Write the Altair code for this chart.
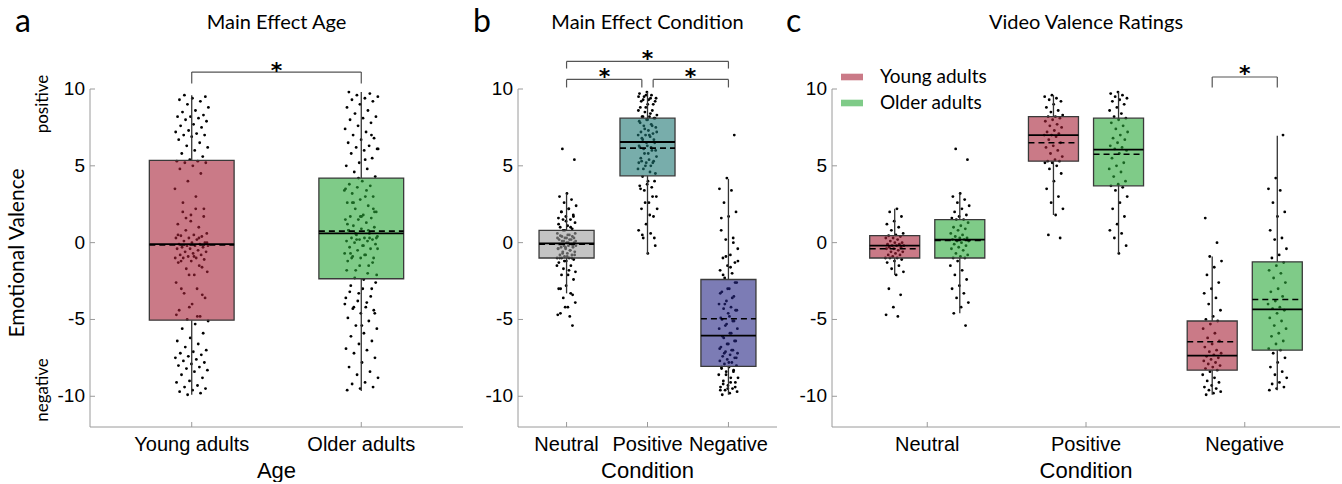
import altair as alt
import pandas as pd

# ---------------- data ----------------
AGE_GROUPS = ["Young adults", "Older adults"]
CONDITIONS = ["Neutral", "Positive", "Negative"]
Y_TICKS = [-10, -5, 0, 5, 10]
Y_TICK_LABELS = ["-10", "-5", "0", "5", "10"]

# individual ratings per age group x condition (panel c); panels a and b pool them
YOUNG_NEUTRAL = [2.2, 2.0, 1.7, 1.4, 1.2, 1.0, 0.8, 0.6, 0.5, 0.45, 0.4, 0.3, 0.3, 0.2, 0.1, 0.0,
                 0.0, -0.1, -0.1, -0.2, -0.2, -0.2, -0.3, -0.3, -0.4, -0.4, -0.5, -0.6, -0.6, -0.7,
                 -0.8, -0.8, -0.9, -1.0, -1.0, -1.0, -1.1, -1.2, -1.3, -1.5, -1.7, -1.9, -2.1, -3.0,
                 -3.4, -4.2, -4.7, -4.8]
OLDER_NEUTRAL = [6.1, 5.4, 3.2, 3.0, 2.8, 2.6, 2.4, 2.2, 2.0, 1.8, 1.7, 1.6, 1.5, 1.5, 1.3, 1.1,
                 1.0, 0.9, 0.8, 0.6, 0.5, 0.4, 0.3, 0.3, 0.2, 0.2, 0.1, 0.1, 0.0, -0.1, -0.2, -0.3,
                 -0.4, -0.5, -0.7, -0.8, -0.9, -1.0, -1.0, -1.2, -1.5, -1.8, -2.1, -2.4, -2.8, -3.0,
                 -3.3, -3.6, -3.9, -4.2, -4.6, -5.4]
YOUNG_POSITIVE = [9.6, 9.5, 9.4, 9.3, 9.2, 9.0, 8.8, 8.6, 8.5, 8.3, 8.2, 8.2, 8.1, 8.0, 7.9, 7.7,
                  7.6, 7.5, 7.3, 7.2, 7.1, 7.0, 7.0, 6.9, 6.7, 6.5, 6.3, 6.2, 6.0, 5.8, 5.6, 5.4,
                  5.3, 5.3, 5.2, 5.2, 5.0, 4.8, 4.5, 4.0, 3.5, 3.0, 2.6, 2.2, 1.8, 0.5, 0.3]
OLDER_POSITIVE = [9.8, 9.7, 9.6, 9.5, 9.4, 9.3, 9.2, 9.0, 8.8, 8.6, 8.4, 8.2, 8.1, 8.0, 7.8, 7.6,
                  7.4, 7.2, 7.0, 6.8, 6.7, 6.5, 6.3, 6.2, 6.1, 6.0, 5.8, 5.5, 5.2, 5.0, 4.8, 4.6,
                  4.3, 4.0, 3.8, 3.7, 3.6, 3.4, 3.0, 2.6, 2.2, 1.7, 1.2, 0.8, 0.6, 0.3, -0.2, -0.7]
YOUNG_NEGATIVE = [1.6, 0.0, -0.9, -1.2, -1.6, -2.1, -2.6, -3.0, -3.3, -3.6, -4.0, -4.4, -4.8, -5.0,
                  -5.1, -5.3, -5.6, -5.9, -6.2, -6.4, -6.6, -6.8, -7.0, -7.1, -7.2, -7.3, -7.4,
                  -7.5, -7.6, -7.7, -7.8, -7.9, -8.0, -8.1, -8.2, -8.3, -8.4, -8.6, -8.8, -9.0,
                  -9.1, -9.3, -9.4, -9.5, -9.6, -9.7, -9.8, -9.9]
OLDER_NEGATIVE = [7.0, 4.2, 3.5, 3.4, 2.6, 2.0, 1.7, 0.8, 0.3, 0.2, -0.4, -0.8, -1.0, -1.3, -1.5,
                  -1.8, -2.0, -2.3, -2.6, -3.0, -3.2, -3.5, -3.8, -4.0, -4.2, -4.3, -4.4, -4.6,
                  -4.9, -5.1, -5.4, -5.6, -5.9, -6.1, -6.4, -6.6, -6.9, -7.0, -7.2, -7.5, -7.8,
                  -8.1, -8.4, -8.6, -8.8, -9.1, -9.2, -9.4, -9.5, -9.6]

# box statistics
A_Q1 = [-5.05, -2.35]
A_MED = [-0.1, 0.6]
A_Q3 = [5.35, 4.2]
A_LO = [-9.9, -9.65]
A_HI = [9.6, 9.8]
A_MEAN = [-0.15, 0.75]

B_Q1 = [-1.0, 4.35, -8.05]
B_MED = [-0.05, 6.55, -6.05]
B_Q3 = [0.8, 8.1, -2.4]
B_LO = [-3.3, -0.75, -9.9]
B_HI = [3.2, 9.8, 4.15]
B_MEAN = [-0.1, 6.15, -4.95]

C_YOUNG_Q1 = [-1.0, 5.3, -8.3]
C_YOUNG_MED = [-0.2, 7.0, -7.35]
C_YOUNG_Q3 = [0.45, 8.2, -5.1]
C_YOUNG_LO = [-2.1, 1.8, -9.9]
C_YOUNG_HI = [2.2, 9.6, -0.9]
C_YOUNG_MEAN = [-0.4, 6.5, -6.45]

C_OLDER_Q1 = [-1.0, 3.7, -7.0]
C_OLDER_MED = [0.2, 6.05, -4.35]
C_OLDER_Q3 = [1.5, 8.1, -1.25]
C_OLDER_LO = [-4.6, -0.7, -9.6]
C_OLDER_HI = [3.2, 9.8, 6.95]
C_OLDER_MEAN = [0.15, 5.75, -3.7]

# significance brackets: (left, right, top, bottom of the drop)
A_BRACKETS = [(1.0, 2.0, 11.1, 10.35)]
A_STARS = [(1.5, 11.45)]
B_BRACKETS = [(1.0, 1.93, 10.62, 10.1), (2.07, 3.0, 10.62, 10.1), (1.0, 3.0, 11.8, 11.33)]
B_STARS = [(1.47, 11.1), (2.53, 11.1), (2.0, 12.25)]
C_BRACKETS = [(2.795, 3.205, 10.78, 10.1)]
C_STARS = [(3.0, 11.27)]

# ---------------- styling ----------------
AGE_COLORS = ["#A72137", "#2AA839"]
COND_COLORS = ["#9D9D9D", "#1E7673", "#252584"]
BOX_ALPHA = 0.6
SANS = "Liberation Sans"
LATO = "Lato"
PLOT_H = 338
Y_DOMAIN = [-12, 10]
AXIS_GRAY = "#9a9a9a"


def pts_frame(lists, positions):
    rows = []
    for vals, p in zip(lists, positions):
        for v in vals:
            rows.append({"pos": p, "v": v})
    return pd.DataFrame(rows)


def box_frame(pos, q1, med, q3, lo, hi, mean, fill, group):
    return pd.DataFrame({"pos": pos, "q1": q1, "med": med, "q3": q3, "lo": lo,
                         "hi": hi, "mean": mean, "fill": fill, "group": group})


def bracket_frame(brackets):
    rows = []
    for x1, x2, top, drop in brackets:
        rows.append({"x": x1, "x2": x1, "y": drop, "y2": top})
        rows.append({"x": x1, "x2": x2, "y": top, "y2": top})
        rows.append({"x": x2, "x2": x2, "y": top, "y2": drop})
    return pd.DataFrame(rows)


def label(text, x, y, size, font=LATO, angle=0, align="center", baseline="middle"):
    return alt.Chart().mark_text(text=text, font=font, fontSize=size, angle=angle, align=align,
                                 baseline=baseline, color="black").encode(
        x=alt.value(x), y=alt.value(y))


def panel(pts, box, width, xdom, box_w, jit, tick_pos, tick_names, xtitle,
          brackets, stars, letter, title, letter_dx, legend=False, ytitle=False):
    xs = alt.Scale(domain=xdom, nice=False, zero=False)
    ys = alt.Scale(domain=Y_DOMAIN, nice=False, zero=False)

    points = alt.Chart(pts).transform_window(idx="row_number()").transform_calculate(
        xj=f"datum.pos + ((datum.idx * 0.6180339887) % 1 - 0.5) * {2 * jit}"
    ).mark_circle(size=8, color="black", opacity=1).encode(
        x=alt.X("xj:Q", scale=xs, axis=None),
        y=alt.Y("v:Q", scale=ys, axis=None),
    )

    base = alt.Chart(box).transform_calculate(
        x1=f"datum.pos - {box_w / 2}", x2=f"datum.pos + {box_w / 2}")
    whisk_lo = base.mark_rule(color="#333", strokeWidth=1.3).encode(
        x=alt.X("pos:Q", scale=xs, axis=None), y=alt.Y("lo:Q", scale=ys, axis=None), y2="q1:Q")
    whisk_hi = base.mark_rule(color="#333", strokeWidth=1.3).encode(
        x=alt.X("pos:Q", scale=xs, axis=None), y=alt.Y("q3:Q", scale=ys, axis=None), y2="hi:Q")
    if legend:
        color = alt.Color("group:N", scale=alt.Scale(domain=AGE_GROUPS, range=AGE_COLORS),
                          legend=alt.Legend(title=None, orient="none", legendX=9, legendY=-23,
                                            symbolType="M-1,-0.3H1V0.3H-1Z", symbolSize=484,
                                            symbolOpacity=BOX_ALPHA, symbolStrokeWidth=0,
                                            labelFont=LATO, labelFontSize=19, labelColor="black",
                                            labelOffset=17, rowPadding=5, padding=0))
    else:
        color = alt.Color("fill:N", scale=None)
    rect = base.mark_rect(fillOpacity=BOX_ALPHA, stroke="#3a3a3a", strokeWidth=1.3).encode(
        x=alt.X("x1:Q", scale=xs, axis=None), x2="x2:Q",
        y=alt.Y("q1:Q", scale=ys, axis=None), y2="q3:Q", color=color)
    med = base.mark_rule(color="black", strokeWidth=1.8).encode(
        x=alt.X("x1:Q", scale=xs, axis=None), x2="x2:Q", y=alt.Y("med:Q", scale=ys, axis=None))
    mean = base.mark_rule(color="black", strokeWidth=1.6, strokeDash=[6, 4]).encode(
        x=alt.X("x1:Q", scale=xs, axis=None), x2="x2:Q", y=alt.Y("mean:Q", scale=ys, axis=None))

    br = alt.Chart(bracket_frame(brackets)).mark_rule(color="#555", strokeWidth=1.2).encode(
        x=alt.X("x:Q", scale=xs, axis=None), x2="x2:Q",
        y=alt.Y("y:Q", scale=ys, axis=None), y2="y2:Q")
    st = alt.Chart(pd.DataFrame(stars, columns=["x", "y"])).mark_text(
        text="*", fontSize=22, font="DejaVu Sans", fontWeight="bold", baseline="middle", dy=4.5,
        color="black").encode(x=alt.X("x:Q", scale=xs, axis=None),
                              y=alt.Y("y:Q", scale=ys, axis=None))

    # axes drawn MATLAB-style: grey domain lines, inward ticks
    ydom = alt.Chart().mark_rule(color=AXIS_GRAY).encode(
        x=alt.value(0), y=alt.value(0), y2=alt.value(PLOT_H))
    xdom_line = alt.Chart().mark_rule(color=AXIS_GRAY).encode(
        x=alt.value(0), x2=alt.value(width), y=alt.value(PLOT_H))
    ytk_df = pd.DataFrame({"t": Y_TICKS, "lab": Y_TICK_LABELS})
    ytk = alt.Chart(ytk_df).mark_rule(color=AXIS_GRAY).encode(
        y=alt.Y("t:Q", scale=ys, axis=None), x=alt.value(0), x2=alt.value(5))
    ylab = alt.Chart(ytk_df).mark_text(font=SANS, fontSize=19, align="right",
                                       baseline="middle", color="black").encode(
        y=alt.Y("t:Q", scale=ys, axis=None), x=alt.value(-5), text="lab:N")
    xtk_df = pd.DataFrame({"t": tick_pos, "name": tick_names})
    xtk = alt.Chart(xtk_df).mark_rule(color=AXIS_GRAY).encode(
        x=alt.X("t:Q", scale=xs, axis=None), y=alt.value(PLOT_H), y2=alt.value(PLOT_H - 5))
    xlab = alt.Chart(xtk_df).mark_text(font=SANS, fontSize=20, align="center",
                                       baseline="alphabetic", color="black").encode(
        x=alt.X("t:Q", scale=xs, axis=None), y=alt.value(PLOT_H + 24), text="name:N")
    xttl = label(xtitle, width / 2, PLOT_H + 51, 22, font=SANS, baseline="alphabetic")

    let = label(letter, letter_dx, -57, 32, align="left", baseline="alphabetic")
    ttl = label(title, width / 2, -60, 20, baseline="alphabetic")

    layers = [points, whisk_lo, whisk_hi, rect, med, mean, br, st,
              ydom, xdom_line, ytk, ylab, xtk, xlab, xttl, let, ttl]
    if ytitle:
        layers.append(label("Emotional Valence", -72, 164, 21, angle=270))
        layers.append(label("positive", -47, 15, 17, angle=270))
        layers.append(label("negative", -47, 301, 17, angle=270))
    return alt.layer(*layers).properties(width=width, height=PLOT_H)


# ---- panel a: age ----
pa_pts = pts_frame([YOUNG_NEUTRAL + YOUNG_POSITIVE + YOUNG_NEGATIVE,
                    OLDER_NEUTRAL + OLDER_POSITIVE + OLDER_NEGATIVE], [1, 2])
pa_box = box_frame([1, 2], A_Q1, A_MED, A_Q3, A_LO, A_HI, A_MEAN, AGE_COLORS, AGE_GROUPS)
pa = panel(pa_pts, pa_box, 373, [0.4, 2.6], 0.5, 0.1, [1, 2], AGE_GROUPS, "Age",
           A_BRACKETS, A_STARS, "a", "Main Effect Age", -75, ytitle=True)

# ---- panel b: condition ----
pb_pts = pts_frame([YOUNG_NEUTRAL + OLDER_NEUTRAL, YOUNG_POSITIVE + OLDER_POSITIVE,
                    YOUNG_NEGATIVE + OLDER_NEGATIVE], [1, 2, 3])
pb_box = box_frame([1, 2, 3], B_Q1, B_MED, B_Q3, B_LO, B_HI, B_MEAN, COND_COLORS, CONDITIONS)
pb = panel(pb_pts, pb_box, 259, [0.4, 3.6], 0.68, 0.12, [1, 2, 3], CONDITIONS, "Condition",
           B_BRACKETS, B_STARS, "b", "Main Effect Condition", -45)

# ---- panel c: age x condition ----
OFF = 0.205
young_pos = [i + 1 - OFF for i in range(3)]
older_pos = [i + 1 + OFF for i in range(3)]
pc_pts = pts_frame([YOUNG_NEUTRAL, OLDER_NEUTRAL, YOUNG_POSITIVE, OLDER_POSITIVE,
                    YOUNG_NEGATIVE, OLDER_NEGATIVE],
                   [young_pos[0], older_pos[0], young_pos[1], older_pos[1],
                    young_pos[2], older_pos[2]])
pc_box = pd.concat([
    box_frame(young_pos, C_YOUNG_Q1, C_YOUNG_MED, C_YOUNG_Q3, C_YOUNG_LO, C_YOUNG_HI,
              C_YOUNG_MEAN, [AGE_COLORS[0]] * 3, [AGE_GROUPS[0]] * 3),
    box_frame(older_pos, C_OLDER_Q1, C_OLDER_MED, C_OLDER_Q3, C_OLDER_LO, C_OLDER_HI,
              C_OLDER_MEAN, [AGE_COLORS[1]] * 3, [AGE_GROUPS[1]] * 3),
], ignore_index=True)
pc = panel(pc_pts, pc_box, 508, [0.4, 3.6], 0.315, 0.06, [1, 2, 3], CONDITIONS, "Condition",
           C_BRACKETS, C_STARS, "c", "Video Valence Ratings", -46, legend=True)

chart = alt.hconcat(pa, pb, pc, spacing=55, bounds="flush").resolve_scale(
    x="independent", y="independent", color="independent"
).properties(
    padding={"left": 7, "top": 6, "right": 0, "bottom": 0}
).configure_view(stroke=None)

chart.save("out.html", embed_options={"renderer": "svg", "actions": False})
